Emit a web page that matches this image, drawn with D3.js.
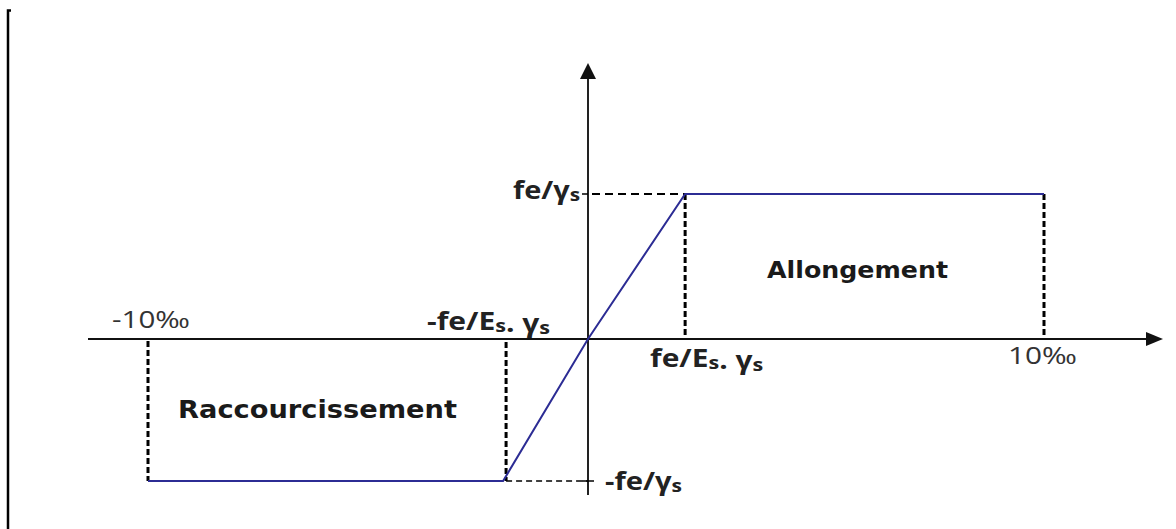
<!DOCTYPE html>
<html>
<head>
<meta charset="utf-8">
<script src="https://cdn.jsdelivr.net/npm/d3@7"></script>
<style>
  html, body { margin: 0; padding: 0; background: #fff; }
  svg { display: block; }
</style>
</head>
<body>
<svg id="chart"></svg>
<script>
// ─── Steel stress-strain diagram (diagramme contrainte-déformation) ───

// strain in ‰, stress in units of fe/γs
const curveStrain = [-10, -1.93, 0, 2.13, 10];
const curveStress = [-1, -1, 0, 1, 1];

const strainTicks = [-10, 10];
const strainTickLabels = ["-10‰", "10‰"];
const elasticStrain = [-1.93, 2.13];
const stressLevels = [-1, 1];

const zoneLabels = ["Raccourcissement", "Allongement"];

const width = 1176, height = 529;
const BLUE = "#2c2c94";
const LABEL_FONT = "'Open Sans', 'DejaVu Sans', sans-serif";
const ZONE_FONT = "'DejaVu Sans', 'Liberation Sans', sans-serif";

const svg = d3.select("#chart").attr("width", width).attr("height", height);
svg.append("rect").attr("width", width).attr("height", height).attr("fill", "#fff");

// polylinear scales: the sketch is not perfectly symmetric
const x = d3.scaleLinear().domain([-10, 0, 10]).range([148, 588, 1044]);
const y = d3.scaleLinear().domain([-1, 0, 1]).range([481, 339, 194]);

const x0 = x(0), y0 = y(0);

// Left frame line
svg.append("path")
  .attr("d", "M11,10.5 H8 V529")
  .attr("fill", "none")
  .attr("stroke", "#000")
  .attr("stroke-width", 2.5);

// Axes
svg.append("line")
  .attr("x1", 88).attr("x2", 1147)
  .attr("y1", y0).attr("y2", y0)
  .attr("stroke", "#111").attr("stroke-width", 2);
svg.append("path")
  .attr("d", `M1146,${y0 - 7} L1163,${y0} L1146,${y0 + 7} Z`)
  .attr("fill", "#111");

svg.append("line")
  .attr("x1", x0).attr("x2", x0)
  .attr("y1", 495).attr("y2", 77)
  .attr("stroke", "#222").attr("stroke-width", 2);
svg.append("path")
  .attr("d", `M${x0 - 8},79 L${x0},63 L${x0 + 8},79 Z`)
  .attr("fill", "#111");

// Dashed guide lines
const guides = svg.append("g").attr("fill", "none").attr("stroke", "#000");

// verticals at -10‰ and 10‰ and at elastic limits
guides.append("line")
  .attr("x1", x(strainTicks[0])).attr("x2", x(strainTicks[0]))
  .attr("y1", y0 + 2).attr("y2", y(-1))
  .attr("stroke-width", 3).attr("stroke-dasharray", "6,3");
guides.append("line")
  .attr("x1", x(strainTicks[1])).attr("x2", x(strainTicks[1]))
  .attr("y1", y(1)).attr("y2", y0 - 2)
  .attr("stroke-width", 3).attr("stroke-dasharray", "6,3");
guides.append("line")
  .attr("x1", x(elasticStrain[0]) + 3).attr("x2", x(elasticStrain[0]) + 3)
  .attr("y1", y0 + 3).attr("y2", y(-1))
  .attr("stroke-width", 3).attr("stroke-dasharray", "6,3");
guides.append("line")
  .attr("x1", x(elasticStrain[1])).attr("x2", x(elasticStrain[1]))
  .attr("y1", y(1)).attr("y2", y0 - 2)
  .attr("stroke-width", 3).attr("stroke-dasharray", "6,3");

// horizontals to the stress axis
guides.append("line")
  .attr("x1", x0 + 4).attr("x2", x(elasticStrain[1]))
  .attr("y1", y(stressLevels[1])).attr("y2", y(stressLevels[1]))
  .attr("stroke-width", 2).attr("stroke-dasharray", "8,5");
guides.append("line")
  .attr("x1", x(elasticStrain[0]) + 3).attr("x2", x0)
  .attr("y1", y(stressLevels[0])).attr("y2", y(stressLevels[0]))
  .attr("stroke-width", 1.5).attr("stroke-dasharray", "6,4");

// small ticks on the stress axis
stressLevels.forEach(s => {
  guides.append("line")
    .attr("x1", x0 - 6).attr("x2", x0 + (s < 0 ? 6 : 0))
    .attr("y1", y(s)).attr("y2", y(s))
    .attr("stroke-width", 1.5);
});

// Stress-strain curve
const line = d3.line().x(d => x(d[0])).y(d => y(d[1]));
svg.append("path")
  .datum(d3.zip(curveStrain, curveStress))
  .attr("d", line)
  .attr("fill", "none")
  .attr("stroke", BLUE)
  .attr("stroke-width", 2);

// Labels with subscripts
function subLabel(parts, xPos, yPos, anchor, size, len) {
  const t = svg.append("text")
    .attr("x", xPos).attr("y", yPos)
    .attr("text-anchor", anchor)
    .attr("font-family", LABEL_FONT)
    .attr("font-weight", "bold")
    .attr("font-size", size)
    .attr("fill", "#222");
  parts.forEach(p => {
    if (p.sub) {
      t.append("tspan").attr("font-size", size * 0.72).attr("dy", 2).text(p.text);
      t.append("tspan").attr("dy", -2).text("");
    } else {
      t.append("tspan").text(p.text);
    }
  });
  if (len) t.attr("textLength", len).attr("lengthAdjust", "spacingAndGlyphs");
  return t;
}

subLabel([{ text: "fe/γ" }, { text: "s", sub: true }], x0 - 8, y(1) + 5, "end", 25, 67);
subLabel([{ text: "-fe/γ" }, { text: "s", sub: true }], x0 + 17, y(-1) + 9, "start", 25, 77);
subLabel([{ text: "-fe/E" }, { text: "s", sub: true }, { text: ". γ" }, { text: "s", sub: true }],
  x(elasticStrain[0]) - 76, y0 - 9, "start", 25, 123);
subLabel([{ text: "fe/E" }, { text: "s", sub: true }, { text: ". γ" }, { text: "s", sub: true }],
  x(elasticStrain[1]) - 35, y0 + 28, "start", 25, 113);

// strain tick labels
svg.append("text")
  .attr("x", 112).attr("y", y0 - 11)
  .attr("font-family", LABEL_FONT).attr("font-size", 23).attr("fill", "#333")
  .attr("textLength", 78).attr("lengthAdjust", "spacingAndGlyphs")
  .text(strainTickLabels[0]);
svg.append("text")
  .attr("x", 1008).attr("y", y0 + 25)
  .attr("font-family", LABEL_FONT).attr("font-size", 23).attr("fill", "#333")
  .attr("textLength", 69).attr("lengthAdjust", "spacingAndGlyphs")
  .text(strainTickLabels[1]);

// zone labels
svg.append("text")
  .attr("x", 178).attr("y", 418)
  .attr("font-family", ZONE_FONT).attr("font-weight", "bold")
  .attr("font-size", 25).attr("fill", "#1a1a1a")
  .attr("textLength", 279).attr("lengthAdjust", "spacingAndGlyphs")
  .text(zoneLabels[0]);
svg.append("text")
  .attr("x", 767).attr("y", 278)
  .attr("font-family", ZONE_FONT).attr("font-weight", "bold")
  .attr("font-size", 23).attr("fill", "#1a1a1a")
  .attr("textLength", 181).attr("lengthAdjust", "spacingAndGlyphs")
  .text(zoneLabels[1]);
</script>
</body>
</html>
